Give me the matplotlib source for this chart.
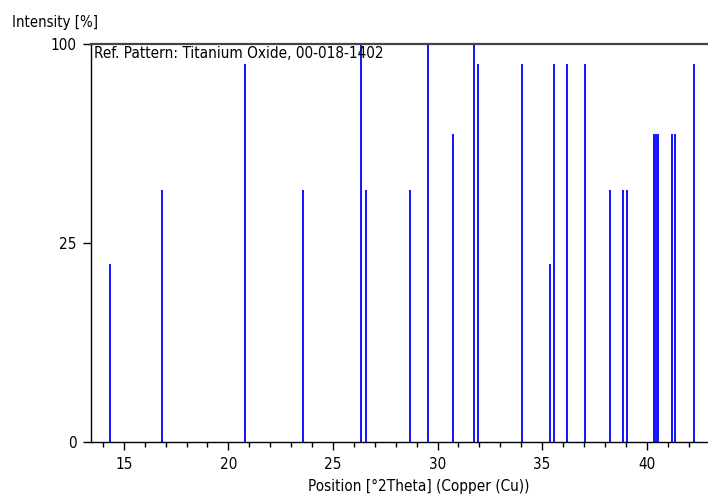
import matplotlib
matplotlib.use("Agg")
import matplotlib.pyplot as plt
from matplotlib.ticker import MultipleLocator, FixedLocator
import numpy as np

plt.rcParams['font.family'] = ['DejaVu Sans']
plt.rcParams['font.stretch'] = 'condensed'

# Reference pattern 00-018-1402 (Titanium Oxide): peak positions and relative intensities
positions = [14.33, 16.83, 20.81, 23.56, 26.33, 26.58, 28.70, 29.55, 30.74,
             31.73, 31.92, 34.02, 35.38, 35.55, 36.20, 37.05, 38.25, 38.85,
             39.04, 40.35, 40.45, 40.55, 41.21, 41.37, 42.28]
intensities = [20, 40, 90, 40, 100, 40, 40, 100, 60,
               100, 90, 90, 20, 90, 90, 90, 40, 40,
               40, 60, 60, 60, 60, 60, 90]

y_ticks = [0, 25, 100]
x_ticks = [15, 20, 25, 30, 35, 40]

W, H = 708, 501
fig = plt.figure(figsize=(W / 100, H / 100), dpi=100)
ax = fig.add_axes([90.7 / W, 1 - 441.7 / H, 1 - 90.7 / W, (441.7 - 44) / H])

# square-root intensity scale
ax.set_yscale('function', functions=(lambda v: np.sqrt(np.clip(v, 0, None)),
                                     lambda v: np.asarray(v) ** 2))
ax.set_ylim(0, 100)
ax.set_xlim(13.42, 42.93)

ax.vlines(positions, 0, intensities, colors='#0000ff', linewidth=1.3)

ax.yaxis.set_major_locator(FixedLocator(y_ticks))
ax.yaxis.set_minor_locator(FixedLocator([]))
ax.set_yticklabels([str(t) for t in y_ticks])
ax.xaxis.set_major_locator(FixedLocator(x_ticks))
ax.xaxis.set_minor_locator(MultipleLocator(1))
ax.set_xticklabels([str(t) for t in x_ticks])

ax.tick_params(axis='both', which='major', labelsize=11, length=6, width=1, direction='out')
ax.tick_params(axis='x', which='major', pad=5)
ax.tick_params(axis='y', which='major', pad=4)
ax.tick_params(axis='x', which='minor', length=3.5, width=1, direction='out')

ax.spines['right'].set_visible(False)
ax.spines['top'].set_color('#444444')
ax.spines['top'].set_linewidth(1.6)
for s in ('left', 'bottom'):
    ax.spines[s].set_color('black')
    ax.spines[s].set_linewidth(1)

ax.text(0.005, 0.995, 'Ref. Pattern: Titanium Oxide, 00-018-1402', transform=ax.transAxes,
        ha='left', va='top', fontsize=11)

fig.text(418.7 / W, 1 - 486 / H, 'Position [°2Theta] (Copper (Cu))',
         ha='center', va='center', fontsize=11)
fig.text(12 / W, 1 - 22 / H, 'Intensity [%]', ha='left', va='center', fontsize=10.7)

fig.savefig('out.png', dpi=100)
